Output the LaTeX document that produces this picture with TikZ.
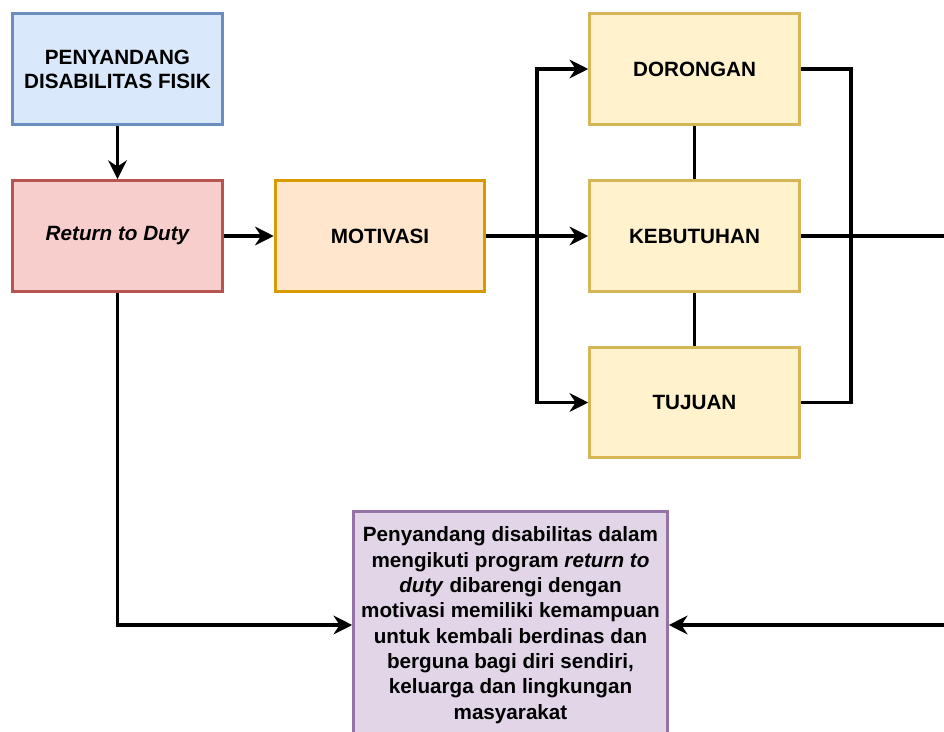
\documentclass[tikz,border=0pt]{standalone}
\usepackage{fontspec}
\setmainfont{Liberation Sans}
\usetikzlibrary{arrows.meta}

\definecolor{bluefill}{HTML}{DAE8FC}
\definecolor{bluedraw}{HTML}{6C8EBF}
\definecolor{redfill}{HTML}{F8CECC}
\definecolor{reddraw}{HTML}{B85450}
\definecolor{orangefill}{HTML}{FFE6CC}
\definecolor{orangedraw}{HTML}{D79B00}
\definecolor{yellowfill}{HTML}{FFF2CC}
\definecolor{yellowdraw}{HTML}{D6B656}
\definecolor{purplefill}{HTML}{E1D5E7}
\definecolor{purpledraw}{HTML}{9673A6}

\begin{document}
\begin{tikzpicture}[x=0.75pt,y=-0.75pt,
  box/.style={draw,line width=2.4pt,minimum width=157pt,minimum height=83pt,
    align=center,font=\fontsize{15.5}{18}\selectfont\bfseries},
  link/.style={line width=2.5pt},
  arr/.style={link,-{Stealth[length=14pt,width=14pt,inset=4.5pt]}}]
\useasboundingbox (0,0) rectangle (944,731);
\clip (0,0) rectangle (944,731);
\fill[white] (0,0) rectangle (944,731);
% boxes
\node[box,fill=bluefill,draw=bluedraw] (disab) at (117.5,69) {PENYANDANG\\DISABILITAS FISIK};
\node[box,fill=redfill,draw=reddraw] (rtd) at (117.5,236) {\itshape Return to Duty\vphantom{A}};
\node[box,fill=orangefill,draw=orangedraw] (motiv) at (380,236) {MOTIVASI};
\node[box,fill=yellowfill,draw=yellowdraw] (dorong) at (694.5,69) {DORONGAN};
\node[box,fill=yellowfill,draw=yellowdraw] (butuh) at (694.5,236) {KEBUTUHAN};
\node[box,fill=yellowfill,draw=yellowdraw] (tujuan) at (694.5,402.5) {TUJUAN};
\node[box,fill=purplefill,draw=purpledraw,minimum width=235pt,minimum height=170pt,
  font=\fontsize{15.5}{19}\selectfont\bfseries] (hasil) at (510.5,625)
  {Penyandang disabilitas dalam\\mengikuti program \textit{return to}\\\textit{duty} dibarengi dengan\\motivasi memiliki kemampuan\\untuk kembali berdinas dan\\berguna bagi diri sendiri,\\keluarga dan lingkungan\\masyarakat};
% junctions
\coordinate (split) at (537,236);
\coordinate (join) at (851,236);
\coordinate (outA) at (960,236);
\coordinate (outB) at (960,625);
% connectors
\draw[arr] (disab) -- (rtd);
\draw[arr] (rtd) -- (motiv);
\draw[arr] (motiv) -- (butuh);
\draw[arr] (split) |- (dorong.west);
\draw[arr] (split) |- (tujuan.west);
\draw[link] (dorong) -- (butuh);
\draw[link] (butuh) -- (tujuan);
\draw[link] (dorong.east) -| (join) |- (tujuan.east);
\draw[link] (butuh.east) -- (outA);
\draw[arr] (outB) -- (hasil.east);
\draw[arr] (rtd.south) |- (hasil.west);
\end{tikzpicture}
\end{document}
